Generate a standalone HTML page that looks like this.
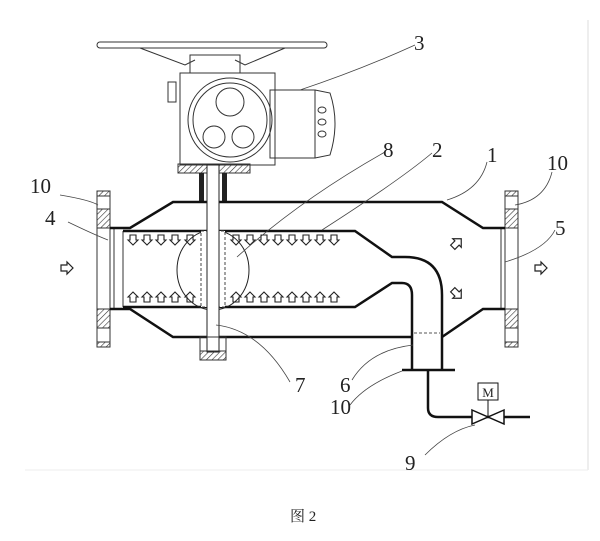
<!DOCTYPE html>
<html><head><meta charset="utf-8"><style>
html,body{margin:0;padding:0;background:#fff;width:600px;height:541px;overflow:hidden}
text{font-family:"Liberation Serif","Noto Serif CJK SC",serif;fill:#222}
</style></head><body>
<svg width="600" height="541" viewBox="0 0 600 541" xmlns="http://www.w3.org/2000/svg">
<defs>
<pattern id="h" width="4" height="4" patternUnits="userSpaceOnUse" patternTransform="rotate(45)"><line x1="0" y1="0" x2="0" y2="4" stroke="#333" stroke-width="1.2"/></pattern>
<g id="ar"><path d="M-3,-5 L3,-5 L3,0 L5,0 L0,5 L-5,0 L-3,0Z" fill="none" stroke="#222" stroke-width="1.1"/></g>
<g id="au"><path d="M-3,5 L3,5 L3,0 L5,0 L0,-5 L-5,0 L-3,0Z" fill="none" stroke="#222" stroke-width="1.1"/></g>
<g id="rt"><path d="M-6,-3 L0,-3 L0,-6 L6,0 L0,6 L0,3 L-6,3Z" fill="none" stroke="#222" stroke-width="1.2"/></g>
</defs>
<line x1="588" y1="20" x2="588" y2="470" stroke="#ddd"/>
<line x1="25" y1="470" x2="588" y2="470" stroke="#eee"/>
<!-- actuator -->
<g fill="none" stroke="#333" stroke-width="1">
<rect x="97" y="42" width="230" height="6" rx="3"/>
<path d="M140,48 L185,65 L195,60 M285,48 L245,65 L235,60"/>
<rect x="190" y="55" width="50" height="18"/>
<rect x="180" y="73" width="95" height="92"/>
<circle cx="230" cy="120" r="42"/>
<circle cx="230" cy="120" r="37"/>
<circle cx="230" cy="102" r="14"/>
<circle cx="214" cy="137" r="11"/>
<circle cx="243" cy="137" r="11"/>
<rect x="270" y="90" width="45" height="68"/>
<path d="M315,90 L330,93 Q340,123 330,155 L315,158"/>
<ellipse cx="322" cy="110" rx="4" ry="3"/><ellipse cx="322" cy="122" rx="4" ry="3"/><ellipse cx="322" cy="134" rx="4" ry="3"/>
<rect x="168" y="82" width="8" height="20"/>
</g>
<rect x="178" y="164" width="72" height="9" fill="url(#h)" stroke="#333"/>
<rect x="199" y="173" width="5" height="30" fill="#222"/>
<rect x="222" y="173" width="5" height="30" fill="#222"/>
<!-- flanges -->
<g stroke="#333" stroke-width="1">
<rect x="97" y="191" width="13" height="156" fill="none"/>
<rect x="97" y="191" width="13" height="5" fill="url(#h)"/><rect x="97" y="209" width="13" height="19" fill="url(#h)"/>
<rect x="97" y="309" width="13" height="19" fill="url(#h)"/><rect x="97" y="342" width="13" height="5" fill="url(#h)"/>
<rect x="505" y="191" width="13" height="156" fill="none"/>
<rect x="505" y="191" width="13" height="5" fill="url(#h)"/><rect x="505" y="209" width="13" height="19" fill="url(#h)"/>
<rect x="505" y="309" width="13" height="19" fill="url(#h)"/><rect x="505" y="342" width="13" height="5" fill="url(#h)"/>
<line x1="114" y1="228" x2="114" y2="309"/>
<line x1="501" y1="228" x2="501" y2="309"/>
<line x1="123" y1="231" x2="123" y2="307"/>
</g>
<!-- body -->
<g fill="none" stroke="#111" stroke-width="2.5">
<path d="M110,228 L130,228 L173,202 L442,202 L483,228 L505,228"/>
<path d="M110,309 L130,309 L173,337 L412,337 M442,337 L483,309 L505,309"/>
<path d="M123,231 L355,231 L392,257 L405,257 Q442,257 442,295 L442,370"/>
<path d="M123,307 L355,307 L392,283 L402,283 Q412,283 412,295 L412,370"/>
<line x1="402" y1="370" x2="455" y2="370"/>
<path d="M428,370 L428,408 Q428,417 438,417 L530,417"/>
</g>
<line x1="414" y1="333" x2="440" y2="333" stroke="#555" stroke-dasharray="3,2"/>
<!-- valve -->
<path d="M472,410 L488,417 L472,424Z M504,410 L488,417 L504,424Z" fill="#fff" stroke="#111" stroke-width="1.5"/>
<line x1="488" y1="400" x2="488" y2="417" stroke="#111"/>
<rect x="478" y="383" width="20" height="17" fill="#fff" stroke="#111"/>
<text x="488" y="397" font-size="13" text-anchor="middle" font-family="Liberation Sans">M</text>
<!-- disc & shaft -->
<ellipse cx="213" cy="270" rx="36" ry="40" fill="none" stroke="#222"/>
<rect x="201" y="231" width="24" height="76" fill="#fff" stroke="#444" stroke-dasharray="3,2"/>
<rect x="207" y="165" width="12" height="187" fill="#fff" stroke="#222"/>
<rect x="200" y="337" width="26" height="14" fill="none" stroke="#333"/>
<rect x="200" y="351" width="26" height="9" fill="url(#h)" stroke="#333"/>
<!-- arrows -->
<g>
<use href="#ar" x="133" y="240"/><use href="#ar" x="147" y="240"/><use href="#ar" x="161" y="240"/><use href="#ar" x="175" y="240"/><use href="#ar" x="190" y="240"/>
<use href="#ar" x="236" y="240"/><use href="#ar" x="250" y="240"/><use href="#ar" x="264" y="240"/><use href="#ar" x="278" y="240"/><use href="#ar" x="292" y="240"/><use href="#ar" x="306" y="240"/><use href="#ar" x="320" y="240"/><use href="#ar" x="334" y="240"/>
<use href="#au" x="133" y="297"/><use href="#au" x="147" y="297"/><use href="#au" x="161" y="297"/><use href="#au" x="175" y="297"/><use href="#au" x="190" y="297"/>
<use href="#au" x="236" y="297"/><use href="#au" x="250" y="297"/><use href="#au" x="264" y="297"/><use href="#au" x="278" y="297"/><use href="#au" x="292" y="297"/><use href="#au" x="306" y="297"/><use href="#au" x="320" y="297"/><use href="#au" x="334" y="297"/>
<use href="#rt" x="67" y="268"/><use href="#rt" x="541" y="268"/>
<g transform="translate(457,243) rotate(-45)"><use href="#rt"/></g>
<g transform="translate(457,294) rotate(45)"><use href="#rt"/></g>
</g>
<!-- leaders -->
<g fill="none" stroke="#444" stroke-width="0.8">
<path d="M300,90 Q360,70 415,45"/>
<path d="M237,257 Q300,200 385,152"/>
<path d="M322,230 Q400,180 432,153"/>
<path d="M447,200 Q480,190 487,162"/>
<path d="M60,195 Q90,200 98,205"/>
<path d="M68,222 Q95,235 108,240"/>
<path d="M515,205 Q545,200 552,172"/>
<path d="M505,262 Q545,250 555,230"/>
<path d="M216,325 Q260,330 290,382"/>
<path d="M413,345 Q370,350 352,380"/>
<path d="M402,371 Q365,385 350,405"/>
<path d="M475,425 Q450,430 425,455"/>
</g>
<!-- labels -->
<g font-size="21">
<text x="414" y="50">3</text>
<text x="383" y="157">8</text>
<text x="432" y="157">2</text>
<text x="487" y="162">1</text>
<text x="30" y="193">10</text>
<text x="547" y="170">10</text>
<text x="45" y="225">4</text>
<text x="555" y="235">5</text>
<text x="295" y="392">7</text>
<text x="340" y="392">6</text>
<text x="330" y="414">10</text>
<text x="405" y="470">9</text>
</g>
<text x="290" y="521" font-size="15" font-family="Liberation Sans, Noto Sans CJK SC, sans-serif">图 2</text>
</svg>
</body></html>
